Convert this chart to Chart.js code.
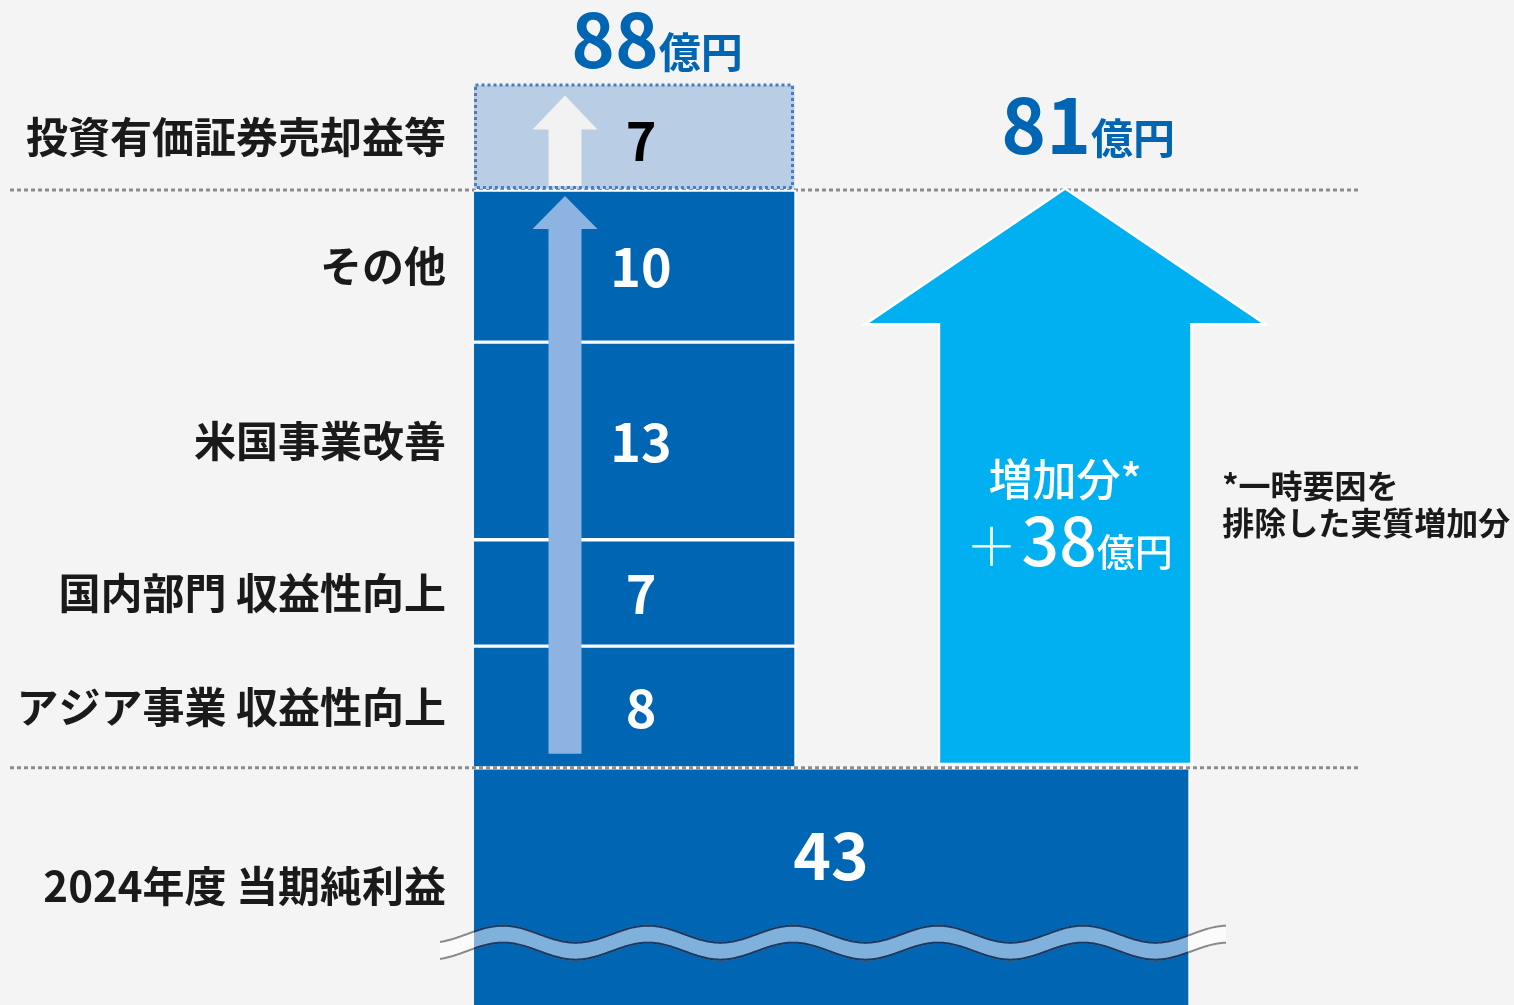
<!DOCTYPE html>
<html lang="ja">
<head>
<meta charset="UTF-8">
<title>当期純利益 増減要因</title>
<script src="https://cdn.jsdelivr.net/npm/chart.js"></script>
<style>
  body { margin: 0; background: #f4f4f4; }
  .quadro { width: 1514px; height: 1005px; position: relative; }
</style>
</head>
<body>

<div class="quadro"><canvas id="grafico"></canvas></div>

<script>
    // 増減要因（億円）: 下から順に積み上げ
    var fatores = ['アジア事業 収益性向上', '国内部門 収益性向上', '米国事業改善', 'その他', '投資有価証券売却益等'];
    var valores = [8, 7, 13, 10, 7];
    var baseLabel = '2024年度 当期純利益';
    var baseValor = 43;
    var aumento = 38;          // 一時要因を除いた増加分
    var totais = [81, 88];     // 一時要因除き / 合計

    // 縦軸は途中を省略（波線）して表示
    var eixoMin = 27.4, eixoMax = 93.5, corte = 31.5;

    // 横方向の配置（x軸の単位）
    var colX = 2, baseX = 4.4625, setaX = 7.39;

    var FONTE = "'Noto Sans CJK JP', 'Noto Sans', sans-serif";
    var azul = '#0066b3';

    // 積み上げの各区間 [下端, 上端]
    var faixas = [];
    var acum = baseValor;
    valores.forEach(function (v) {
        faixas.push([acum, acum + v]);
        acum += v;
    });

    // 左側のラベル位置（各区間の中央）
    var posLabels = faixas.map(function (f) { return (f[0] + f[1]) / 2; });
    var posBase = (baseValor + eixoMin) / 2;

    function linhaPontilhada(ctx, y, x0, x1) {
        ctx.save();
        ctx.strokeStyle = '#8c8c8c';
        ctx.lineWidth = 3;
        ctx.setLineDash([4, 3]);
        ctx.beginPath();
        ctx.moveTo(x0, y);
        ctx.lineTo(x1, y);
        ctx.stroke();
        ctx.restore();
    }

    function seta(ctx, cx, topo, fundo, meioCorpo, meioCabeca, altCabeca, cor, contorno) {
        ctx.save();
        ctx.beginPath();
        ctx.moveTo(cx, topo);
        ctx.lineTo(cx + meioCabeca, topo + altCabeca);
        ctx.lineTo(cx + meioCorpo, topo + altCabeca);
        ctx.lineTo(cx + meioCorpo, fundo);
        ctx.lineTo(cx - meioCorpo, fundo);
        ctx.lineTo(cx - meioCorpo, topo + altCabeca);
        ctx.lineTo(cx - meioCabeca, topo + altCabeca);
        ctx.closePath();
        if (contorno) {
            ctx.strokeStyle = '#ffffff';
            ctx.lineWidth = 5;
            ctx.lineJoin = 'miter';
            ctx.stroke();
        }
        ctx.fillStyle = cor;
        ctx.fill();
        ctx.restore();
    }

    // texto com partes de tamanhos diferentes, centrado em cx
    function textoPartes(ctx, partes, cx, y, cor) {
        ctx.save();
        ctx.fillStyle = cor;
        ctx.textBaseline = 'alphabetic';
        ctx.textAlign = 'left';
        var total = 0;
        partes.forEach(function (p) {
            ctx.font = p.fonte;
            p.w = ctx.measureText(p.t).width;
            total += p.w + (p.gap || 0);
        });
        var x = cx - total / 2;
        partes.forEach(function (p) {
            ctx.font = p.fonte;
            ctx.fillText(p.t, x, y);
            x += p.w + (p.gap || 0);
        });
        ctx.restore();
    }

    function texto(ctx, t, x, y, fonte, cor, align) {
        ctx.save();
        ctx.font = fonte;
        ctx.fillStyle = cor;
        ctx.textAlign = align || 'center';
        ctx.textBaseline = 'middle';
        ctx.fillText(t, x, y);
        ctx.restore();
    }

    function caminhoOnda(ctx, x0, x1, yc, fase, desloc) {
        var amp = 8.5, periodo = 145;
        for (var x = x0; x <= x1; x += 1) {
            var y = yc - amp + desloc - amp * Math.cos(2 * Math.PI * (x - fase) / periodo);
            if (x === x0) ctx.moveTo(x, y); else ctx.lineTo(x, y);
        }
    }

    function faixaOnda(ctx, x0, x1, yc, fase) {
        ctx.beginPath();
        caminhoOnda(ctx, x0, x1, yc, fase, 0);
        for (var px = x1; px >= x0; px -= 1) {
            ctx.lineTo(px, yc + 8.5 - 8.5 * Math.cos(2 * Math.PI * (px - fase) / 145));
        }
        ctx.closePath();
    }

    var desenho = {
        id: 'desenho',
        beforeDatasetsDraw: function (chart) {
            var y = chart.scales.y;
            linhaPontilhada(chart.ctx, y.getPixelForValue(totais[0]), 10, 1358);
        },
        afterDatasetsDraw: function (chart) {
            var ctx = chart.ctx, y = chart.scales.y, x = chart.scales.x;
            var base = chart.getDatasetMeta(0).data[0];
            var segs = chart.getDatasetMeta(1).data;
            var topoEl = chart.getDatasetMeta(2).data[0];

            var y43 = y.getPixelForValue(baseValor);
            var y81 = y.getPixelForValue(baseValor + aumento);
            var y88 = y.getPixelForValue(totais[1]);
            var colEsq = topoEl.x - topoEl.width / 2;

            // borda pontilhada do item pontual
            ctx.save();
            ctx.strokeStyle = '#4a7ebb';
            ctx.lineWidth = 3;
            ctx.setLineDash([3, 3]);
            ctx.strokeRect(colEsq + 3.5, y88 + 1.5, topoEl.width - 7, y81 - y88 - 4);
            ctx.restore();

            // setas dentro da coluna
            var sx = colEsq + 93;
            seta(ctx, sx, y81 + 6, y43 - 14, 16.5, 32.5, 33, '#8db3e2', false);
            seta(ctx, sx, y88 + 12, y81 - 4, 16.5, 32.5, 34, '#f2f2f2', false);

            // seta do aumento
            var ax = x.getPixelForValue(setaX);
            seta(ctx, ax, y81, y43 - 5, 125, 196, 133, '#00b0f0', true);

            linhaPontilhada(ctx, y43, 10, 1358);

            // valores dentro das barras
            var fNum = 'bold 52px ' + FONTE;
            segs.forEach(function (el, i) {
                texto(ctx, String(valores[i]), el.x + 7, (el.y + el.base) / 2 + 1, fNum, '#ffffff');
            });
            texto(ctx, String(valores[4]), topoEl.x + 7, (topoEl.y + topoEl.base) / 2 + 4, fNum, '#000000');

            // onda de corte do eixo
            var yc = y.getPixelForValue(corte);
            var bEsq = base.x - base.width / 2 + 2, bDir = base.x + base.width / 2 - 2;
            var o0 = bEsq - 34, o1 = bDir + 38, fase = bEsq + 29;
            ctx.save();
            faixaOnda(ctx, o0, o1, yc, fase);
            ctx.fillStyle = '#fbfbfb';
            ctx.fill();
            ctx.save();
            ctx.beginPath();
            ctx.rect(bEsq, yc - 40, bDir - bEsq, 80);
            ctx.clip();
            faixaOnda(ctx, o0, o1, yc, fase);
            ctx.fillStyle = '#7fb1dc';
            ctx.fill();
            ctx.restore();
            // linhas da onda
            ['#8a8a8a', '#173a66'].forEach(function (cor, k) {
                ctx.save();
                if (k === 1) {
                    ctx.beginPath();
                    ctx.rect(bEsq, yc - 40, bDir - bEsq, 80);
                    ctx.clip();
                }
                ctx.strokeStyle = cor;
                ctx.lineWidth = 2;
                ctx.beginPath();
                caminhoOnda(ctx, o0, o1, yc, fase, 0);
                ctx.stroke();
                ctx.beginPath();
                caminhoOnda(ctx, o0, o1, yc, fase, 17);
                ctx.stroke();
                ctx.restore();
            });
            ctx.restore();

            // 43
            texto(ctx, String(baseValor), base.x, (y43 + yc) / 2, 'bold 64px ' + FONTE, '#ffffff');

            // totais
            textoPartes(ctx, [
                { t: String(totais[1]), fonte: 'bold 74px ' + FONTE },
                { t: '億円', fonte: 'bold 42px ' + FONTE }
            ], topoEl.x + 23, y88 - 16, azul);
            textoPartes(ctx, [
                { t: String(totais[0]), fonte: 'bold 76px ' + FONTE },
                { t: '億円', fonte: 'bold 42px ' + FONTE }
            ], ax + 23, y81 - 36, azul);

            // texto da seta
            texto(ctx, '増加分*', ax, 479, '500 44px ' + FONTE, '#ffffff');
            textoPartes(ctx, [
                { t: '＋', fonte: '300 52px ' + FONTE, gap: 4 },
                { t: String(aumento), fonte: '500 66px ' + FONTE },
                { t: '億円', fonte: '500 38px ' + FONTE }
            ], ax + 4, 566, '#ffffff');

            // nota
            texto(ctx, '*一時要因を', ax + 157, 486, 'bold 32px ' + FONTE, '#1a1a1a', 'left');
            texto(ctx, '排除した実質増加分', ax + 157, 523, 'bold 32px ' + FONTE, '#1a1a1a', 'left');
        }
    };

    var config = {
        type: 'bar',
        data: {
            datasets: [{
                label: baseLabel,
                data: [{ x: baseX, y: [0, baseValor] }],
                backgroundColor: azul,
                borderColor: '#ffffff',
                borderWidth: 2,
                borderSkipped: false,
                barThickness: 718
            }, {
                label: '増減要因',
                data: faixas.slice(0, 4).map(function (f) { return { x: colX, y: f }; }),
                backgroundColor: azul,
                borderColor: '#ffffff',
                borderWidth: 2,
                borderSkipped: false,
                barThickness: 324
            }, {
                label: fatores[4],
                data: [{ x: colX, y: faixas[4] }],
                backgroundColor: '#b9cde5',
                borderColor: 'rgba(0,0,0,0)',
                borderWidth: 2,
                borderSkipped: false,
                barThickness: 324
            }]
        },
        options: {
            responsive: true,
            maintainAspectRatio: false,
            animation: false,
            layout: { padding: 0 },
            plugins: {
                legend: { display: false },
                tooltip: { enabled: false }
            },
            datasets: { bar: { grouped: false } },
            scales: {
                x: {
                    type: 'linear',
                    min: 0,
                    max: 13,
                    offset: false,
                    display: false
                },
                y: {
                    min: eixoMin,
                    max: eixoMax,
                    grid: { display: false, drawTicks: false },
                    border: { display: false },
                    afterBuildTicks: function (scale) {
                        scale.ticks = posLabels.concat([posBase]).map(function (v) { return { value: v }; });
                    },
                    afterFit: function (scale) {
                        scale.width = 474;
                        scale.paddingTop = 0;
                        scale.paddingBottom = 0;
                    },
                    ticks: {
                        autoSkip: false,
                        padding: 28,
                        color: '#1a1a1a',
                        font: { family: FONTE, size: 42, weight: 'bold' },
                        callback: function (v) {
                            var i = posLabels.indexOf(v);
                            return i >= 0 ? fatores[i] : baseLabel;
                        }
                    }
                }
            }
        },
        plugins: [desenho]
    };

    var grafico = new Chart(document.getElementById('grafico'), config);
</script>
</body>
</html>
